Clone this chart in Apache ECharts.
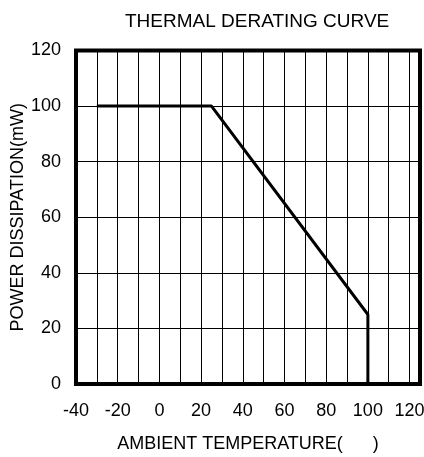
<!DOCTYPE html>
<html>
<head>
<meta charset="utf-8">
<script src="https://cdn.jsdelivr.net/npm/echarts@6/dist/echarts.min.js"></script>
<style>html,body{margin:0;padding:0;background:#fff;}#c{width:424px;height:457px;}</style>
</head>
<body>
<div id="c"></div>
<script>
var curveX = [-30, 25, 100, 100];
var curveY = [100, 100, 25, 0];
var xTicks = [-40, -20, 0, 20, 40, 60, 80, 100, 120];
var yTicks = [0, 20, 40, 60, 80, 100, 120];

var chart = echarts.init(document.getElementById('c'));
var FONT = 'Liberation Sans, Arial, sans-serif';
var data = curveX.map(function (x, i) { return [x, curveY[i]]; });
chart.setOption({
  animation: false,
  backgroundColor: '#fff',
  title: {
    text: 'THERMAL DERATING CURVE',
    left: 120, top: 7,
    textStyle: { fontFamily: FONT, fontSize: 19, fontWeight: 'normal', color: '#000' }
  },
  grid: {
    left: 76, right: 4, top: 50.5, bottom: 73,
    outerBoundsMode: 'none', containLabel: false,
    show: true, borderColor: '#000', borderWidth: 4, backgroundColor: 'transparent'
  },
  xAxis: {
    type: 'value', min: -40, max: 125, interval: 10,
    name: 'AMBIENT TEMPERATURE(      )',
    nameLocation: 'middle', nameGap: 51, nameMoveOverlap: false,
    nameTextStyle: { fontFamily: FONT, fontSize: 18, color: '#000' },
    axisLine: { show: false }, axisTick: { show: false },
    axisLabel: {
      fontFamily: FONT, fontSize: 18, color: '#000', margin: 18,
      showMaxLabel: true, hideOverlap: false,
      formatter: function (v) { return xTicks.indexOf(v) >= 0 ? String(v) : ''; }
    },
    splitLine: { show: true, lineStyle: { color: '#000', width: 1 } }
  },
  yAxis: {
    type: 'value', min: 0, max: 120, interval: 20,
    name: 'POWER DISSIPATION(mW)',
    nameLocation: 'middle', nameGap: 49, nameRotate: 90, nameMoveOverlap: false,
    nameTextStyle: { fontFamily: FONT, fontSize: 18, color: '#000' },
    axisLine: { show: false }, axisTick: { show: false },
    axisLabel: {
      fontFamily: FONT, fontSize: 18, color: '#000', margin: 15,
      formatter: function (v) { return yTicks.indexOf(v) >= 0 ? String(v) : ''; }
    },
    splitLine: { show: true, lineStyle: { color: '#000', width: 1 } }
  },
  series: [{
    type: 'line', data: data, symbol: 'none',
    lineStyle: { color: '#000', width: 3 }
  }]
});
</script>
</body>
</html>
